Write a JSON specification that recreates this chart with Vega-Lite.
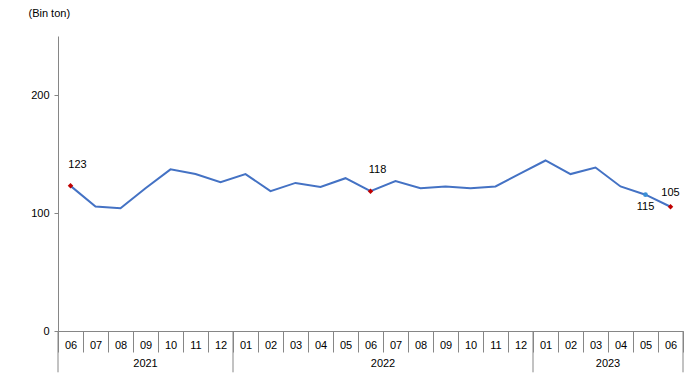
{
  "$schema": "https://vega.github.io/schema/vega-lite/v6.json",
  "autosize": {"type": "none"},
  "padding": {"left": 58, "top": 36, "right": 8, "bottom": 45},
  "width": 625,
  "height": 295,
  "background": "white",
  "config": {
    "view": {"stroke": null},
    "font": "Liberation Sans",
    "text": {"font": "Liberation Sans", "fontSize": 11, "color": "#000000"}
  },
  "data": {
    "values": [
      {"key": "2021-06", "year": "2021", "value": 123, "label": "123"},
      {"key": "2021-07", "year": "2021", "value": 105.5, "label": ""},
      {"key": "2021-08", "year": "2021", "value": 104, "label": ""},
      {"key": "2021-09", "year": "2021", "value": 121, "label": ""},
      {"key": "2021-10", "year": "2021", "value": 137, "label": ""},
      {"key": "2021-11", "year": "2021", "value": 133, "label": ""},
      {"key": "2021-12", "year": "2021", "value": 126, "label": ""},
      {"key": "2022-01", "year": "2022", "value": 133, "label": ""},
      {"key": "2022-02", "year": "2022", "value": 118.5, "label": ""},
      {"key": "2022-03", "year": "2022", "value": 125.5, "label": ""},
      {"key": "2022-04", "year": "2022", "value": 122, "label": ""},
      {"key": "2022-05", "year": "2022", "value": 129.5, "label": ""},
      {"key": "2022-06", "year": "2022", "value": 118.5, "label": "118"},
      {"key": "2022-07", "year": "2022", "value": 127, "label": ""},
      {"key": "2022-08", "year": "2022", "value": 121, "label": ""},
      {"key": "2022-09", "year": "2022", "value": 122.5, "label": ""},
      {"key": "2022-10", "year": "2022", "value": 121, "label": ""},
      {"key": "2022-11", "year": "2022", "value": 122.5, "label": ""},
      {"key": "2022-12", "year": "2022", "value": 133.5, "label": ""},
      {"key": "2023-01", "year": "2023", "value": 144.5, "label": ""},
      {"key": "2023-02", "year": "2023", "value": 133, "label": ""},
      {"key": "2023-03", "year": "2023", "value": 138.5, "label": ""},
      {"key": "2023-04", "year": "2023", "value": 122.5, "label": ""},
      {"key": "2023-05", "year": "2023", "value": 115.5, "label": "115"},
      {"key": "2023-06", "year": "2023", "value": 105.3, "label": "105"}
    ]
  },
  "layer": [
    {
      "mark": {"type": "line", "color": "#4472C4", "strokeWidth": 2},
      "encoding": {
        "x": {
          "field": "key", "type": "ordinal",
          "scale": {"type": "band", "paddingInner": 0, "paddingOuter": 0},
          "axis": {
            "orient": "bottom", "title": null, "labelAngle": 0,
            "labelExpr": "isString(datum.value) ? substring(datum.value, 5, 7) : ''",
            "tickBand": "extent", "tickSize": 21, "tickColor": "#868686",
            "domainColor": "#868686", "labelPadding": -12.5,
            "labelFont": "Liberation Sans", "labelFontSize": 11, "labelColor": "#000000",
            "labelOverlap": false
          }
        },
        "y": {
          "field": "value", "type": "quantitative",
          "scale": {"domain": [0, 250], "nice": false, "zero": true},
          "axis": {
            "values": [0, 100, 200], "grid": false, "tickSize": 4, "labelPadding": 5,
            "tickColor": "#868686", "domainColor": "#868686",
            "labelFont": "Liberation Sans", "labelFontSize": 11, "labelColor": "#000000",
            "title": "(Bin ton)", "titleAngle": 0, "titleAlign": "left", "titleBaseline": "middle",
            "titleX": -30, "titleY": -23, "titleFont": "Liberation Sans", "titleFontSize": 11,
            "titleFontWeight": "normal", "titleColor": "#000000"
          }
        }
      }
    },
    {
      "transform": [{"filter": {"field": "key", "oneOf": ["2021-06", "2022-06", "2023-06"]}}],
      "mark": {"type": "point", "shape": "diamond", "filled": true, "color": "#C00000", "size": 30, "opacity": 1},
      "encoding": {
        "x": {"field": "key", "type": "ordinal"},
        "y": {"field": "value", "type": "quantitative"}
      }
    },
    {
      "transform": [{"filter": {"field": "key", "equal": "2023-05"}}],
      "mark": {"type": "point", "shape": "circle", "filled": true, "color": "#3A8FD6", "size": 22, "opacity": 1},
      "encoding": {
        "x": {"field": "key", "type": "ordinal"},
        "y": {"field": "value", "type": "quantitative"}
      }
    },
    {
      "transform": [{"filter": {"field": "key", "oneOf": ["2021-06", "2022-06"]}}],
      "mark": {"type": "text", "dx": 7, "dy": -21, "baseline": "middle", "align": "center"},
      "encoding": {
        "x": {"field": "key", "type": "ordinal"},
        "y": {"field": "value", "type": "quantitative"},
        "text": {"field": "label"}
      }
    },
    {
      "transform": [{"filter": {"field": "key", "equal": "2023-06"}}],
      "mark": {"type": "text", "dx": 0, "dy": -14, "baseline": "middle", "align": "center"},
      "encoding": {
        "x": {"field": "key", "type": "ordinal"},
        "y": {"field": "value", "type": "quantitative"},
        "text": {"field": "label"}
      }
    },
    {
      "transform": [{"filter": {"field": "key", "equal": "2023-05"}}],
      "mark": {"type": "text", "dx": 0, "dy": 12, "baseline": "middle", "align": "center"},
      "encoding": {
        "x": {"field": "key", "type": "ordinal"},
        "y": {"field": "value", "type": "quantitative"},
        "text": {"field": "label"}
      }
    },
    {
      "transform": [{"filter": {"field": "key", "oneOf": ["2021-06", "2022-01", "2023-01"]}}],
      "mark": {"type": "rule", "color": "#868686", "strokeWidth": 1},
      "encoding": {
        "x": {"field": "key", "type": "ordinal", "bandPosition": 0},
        "y": {"datum": 0},
        "y2": {"datum": -35}
      }
    },
    {
      "transform": [{"filter": {"field": "key", "equal": "2023-06"}}],
      "mark": {"type": "rule", "color": "#868686", "strokeWidth": 1},
      "encoding": {
        "x": {"field": "key", "type": "ordinal", "bandPosition": 1},
        "y": {"datum": 0},
        "y2": {"datum": -35}
      }
    },
    {
      "transform": [{"filter": {"field": "key", "equal": "2021-09"}}],
      "mark": {"type": "text", "baseline": "middle", "align": "center"},
      "encoding": {
        "x": {"field": "key", "type": "ordinal", "bandPosition": 0.5},
        "y": {"datum": -28},
        "text": {"field": "year"}
      }
    },
    {
      "transform": [{"filter": {"field": "key", "oneOf": ["2022-06", "2023-03"]}}],
      "mark": {"type": "text", "baseline": "middle", "align": "center"},
      "encoding": {
        "x": {"field": "key", "type": "ordinal", "bandPosition": 1},
        "y": {"datum": -28},
        "text": {"field": "year"}
      }
    }
  ]
}
